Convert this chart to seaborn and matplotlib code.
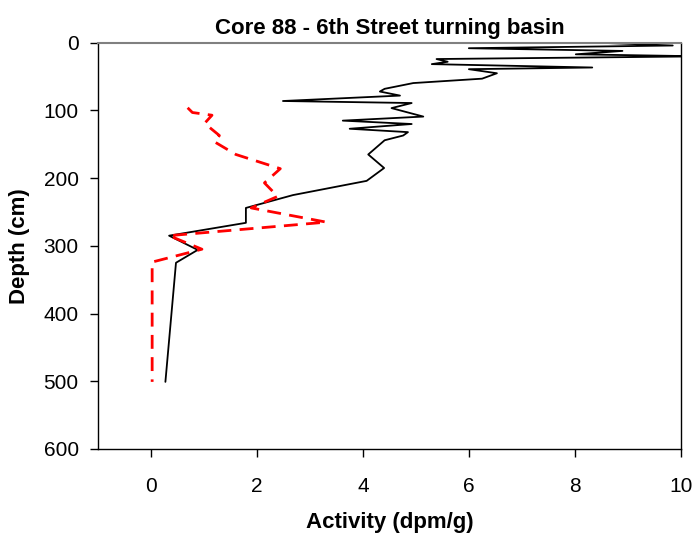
import pandas as pd
import numpy as np
import matplotlib
matplotlib.use("Agg")
import matplotlib.pyplot as plt
import seaborn as sns

sns.set_theme(style="white")
plt.rcParams["font.family"] = ["Liberation Sans", "DejaVu Sans"]
plt.rcParams["text.color"] = "black"
plt.rcParams["axes.labelcolor"] = "black"

# black series (solid)
black_depth = [0, 4, 8, 12, 17, 20, 24, 28, 31.5, 36.5, 39, 45, 53, 59.5, 68, 72, 78,
               86, 89, 96.5, 109, 115, 120, 127, 132, 137, 144, 165, 185, 204,
               225, 244, 266, 285, 306, 325, 501]
black_act = [8.48, 9.85, 6.0, 8.9, 8.02, 10.4, 5.39, 5.6, 5.3, 8.33, 6.0, 6.53, 6.25, 4.95,
             4.41, 4.32, 4.70, 2.49, 4.92, 4.54, 5.14, 3.62, 4.92, 3.75, 4.85, 4.76,
             4.41, 4.10, 4.40, 4.07, 2.68, 1.79, 1.79, 0.34, 0.88, 0.47, 0.27]

# red series (dashed)
red_depth = [96, 103, 107, 119, 137, 146, 165, 186, 207, 227, 244, 265, 285, 305, 324, 501]
red_act = [0.69, 0.78, 1.15, 1.01, 1.29, 1.19, 1.60, 2.44, 2.14, 2.39, 1.89, 3.31,
           0.34, 0.96, 0.02, 0.02]

x_ticks = [0, 2, 4, 6, 8, 10]
y_ticks = [0, 100, 200, 300, 400, 500, 600]

black_df = pd.DataFrame({"Activity": black_act, "Depth": black_depth})
red_df = pd.DataFrame({"Activity": red_act, "Depth": red_depth})

fig, ax = plt.subplots(figsize=(6.96, 5.35), dpi=100)
fig.subplots_adjust(left=0.141, right=0.978, top=0.920, bottom=0.161)

sns.lineplot(data=black_df, x="Activity", y="Depth", sort=False, estimator=None,
             color="black", linewidth=1.3, ax=ax)
sns.lineplot(data=red_df, x="Activity", y="Depth", sort=False, estimator=None,
             color="#ff0000", linewidth=2, ax=ax, dashes=False)
ax.lines[-1].set_dashes([5, 3])

ax.set_xlim(-1, 10)
ax.set_ylim(600, 0)
ax.set_xticks(x_ticks)
ax.set_yticks(y_ticks)
ax.tick_params(axis="both", direction="out", length=6, width=1, labelsize=15,
               colors="black", bottom=True, left=True)
ax.tick_params(axis="x", pad=14)
ax.tick_params(axis="y", pad=8)

for side in ["left", "bottom", "right"]:
    ax.spines[side].set_color("black")
    ax.spines[side].set_linewidth(1)
ax.spines["top"].set_color("#808080")
ax.spines["top"].set_linewidth(1.5)

ax.set_title("Core 88 - 6th Street turning basin", fontsize=16, fontweight="bold",
             pad=6, color="black")
ax.set_xlabel("Activity (dpm/g)", fontsize=16, fontweight="bold", labelpad=12)
ax.set_ylabel("Depth (cm)", fontsize=16, fontweight="bold", labelpad=10)

plt.savefig("out.png", dpi=100)
